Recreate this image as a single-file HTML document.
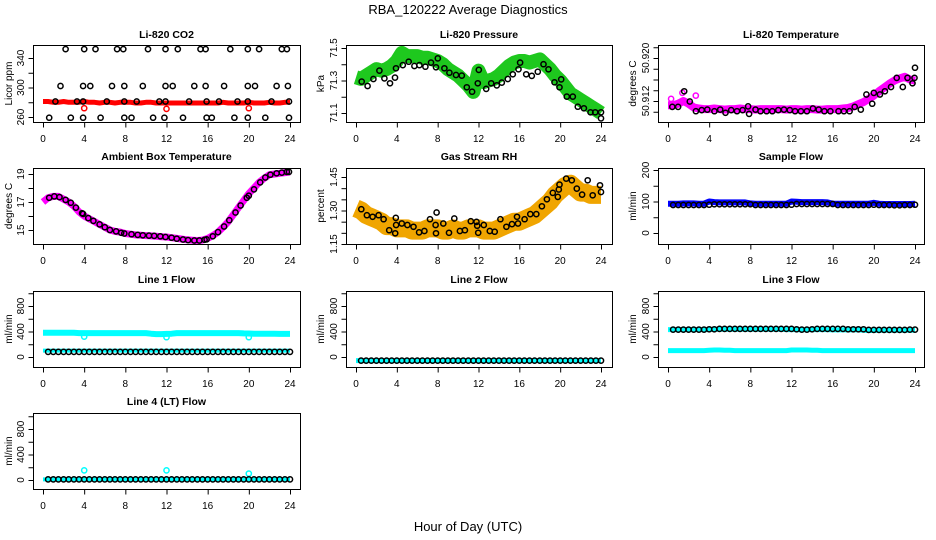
<!DOCTYPE html>
<html><head><meta charset="utf-8">
<style>
html,body{margin:0;padding:0;background:#fff;}
svg{display:block;font-family:"Liberation Sans",Arial,sans-serif;}
</style></head>
<body>
<svg id="chart" width="936" height="540" viewBox="0 0 936 540" xmlns="http://www.w3.org/2000/svg">
<text x="468" y="14" text-anchor="middle" font-size="13">RBA_120222  Average Diagnostics</text>
<text x="468" y="531" text-anchor="middle" font-size="13">Hour of Day (UTC)</text>
</svg>
<script>
const DENSE_H = [0,0.5,1,1.5,2,2.5,3,3.5,4,4.5,5,5.5,6,6.5,7,7.5,8,8.5,9,9.5,10,10.5,11,11.5,12,12.5,13,13.5,14,14.5,15,15.5,16,16.5,17,17.5,18,18.5,19,19.5,20,20.5,21,21.5,22,22.5,23,23.5,24];
const FLOW_H = [0.5,1,1.5,2,2.5,3,3.5,4,4.5,5,5.5,6,6.5,7,7.5,8,8.5,9,9.5,10,10.5,11,11.5,12,12.5,13,13.5,14,14.5,15,15.5,16,16.5,17,17.5,18,18.5,19,19.5,20,20.5,21,21.5,22,22.5,23,23.5,24];
const X_TICKS = [0,4,8,12,16,20,24];

// CO2
const CO2_RED = [281,281,280,280,281,280,280,280,281,280,280,279,280,280,279,280,280,280,279,279,280,280,279,279,279,279,279,279,279,279,279,279,279,279,279,280,279,279,279,279,280,279,279,279,280,279,279,280,280];
const CO2_RED_OUT_H = [4,12,20];
const CO2_RED_OUT_V = [272,271,272];
const CO2_BLK_H = [2.2,4.0,5.1,7.2,7.8,10.2,11.9,13.1,15.3,15.8,18.2,19.9,21.0,23.2,23.7, 1.7,3.9,4.6,6.7,7.9,9.7,11.9,12.6,14.7,15.8,17.6,19.9,20.6,22.7,23.8, 1.2,3.3,3.9,6.2,7.9,9.1,11.3,11.9,14.2,15.9,17.1,18.9,19.9,22.2,23.9, 0.6,2.7,3.9,5.6,7.9,8.6,10.7,11.8,13.6,15.9,16.4,18.6,19.9,21.6,23.9];
const CO2_BLK_V = [352,352,352,352,352,352,352,352,352,352,352,352,352,352,352, 302,302,302,302,302,302,302,302,302,302,302,302,302,302,302, 281,281,281,281,281,281,281,281,281,281,281,281,281,281,281, 259,259,259,259,259,259,259,259,259,259,259,259,259,259,259];

// Pressure
const PRES_GREEN = [71.32,71.31,71.33,71.35,71.37,71.36,71.37,71.39,71.42,71.47,71.45,71.45,71.45,71.44,71.44,71.43,71.42,71.40,71.37,71.35,71.33,71.30,71.27,71.23,71.36,71.29,71.30,71.31,71.33,71.36,71.39,71.41,71.42,71.42,71.41,71.42,71.43,71.40,71.37,71.33,71.30,71.26,71.22,71.20,71.18,71.16,71.14,71.12,71.10];
const PRES_BLK_H = [0.56,1.14,1.70,2.29,2.78,3.33,3.82,3.92,4.58,5.16,5.72,6.21,6.80,7.35,7.84,8.01,8.66,9.15,9.80,10.36,10.85,11.37,11.93,12.03,12.75,13.24,13.79,14.28,14.87,15.36,15.92,16.08,16.67,17.22,17.81,18.37,18.86,19.44,19.93,20.10,20.65,21.24,21.73,22.32,22.97,23.43,24.0,24.0];
const PRES_BLK_V = [71.293,71.266,71.309,71.361,71.313,71.283,71.318,71.375,71.395,71.416,71.389,71.395,71.385,71.410,71.381,71.436,71.375,71.348,71.334,71.330,71.258,71.231,71.283,71.365,71.248,71.283,71.270,71.287,71.309,71.338,71.369,71.410,71.338,71.328,71.354,71.400,71.369,71.289,71.258,71.307,71.201,71.201,71.139,71.129,71.104,71.104,71.104,71.067];

// Li-820 temperature
const TEMP_MAG = [50.9112,50.9112,50.9115,50.9120,50.9115,50.9108,50.9106,50.9105,50.9105,50.9106,50.9105,50.9104,50.9105,50.9105,50.9106,50.9105,50.9105,50.9104,50.9105,50.9105,50.9105,50.9105,50.9105,50.9104,50.9105,50.9105,50.9104,50.9105,50.9105,50.9104,50.9104,50.9105,50.9105,50.9105,50.9106,50.9107,50.9110,50.9114,50.9118,50.9124,50.9130,50.9138,50.9145,50.9152,50.9158,50.9162,50.9165,50.9160,50.9158];
const TEMP_MAG_OUT_H = [22.7,1.4,2.7,0.3];
const TEMP_MAG_OUT_V = [50.9230,50.9135,50.9130,50.9124];
const TEMP_BLK_H = [0.42,0.98,1.57,2.12,2.71,3.27,3.82,4.51,5.07,5.59,6.14,6.70,7.25,7.78,7.88,8.50,8.99,9.58,10.13,10.72,11.27,11.83,12.35,12.91,13.50,14.08,14.64,15.20,15.78,16.57,17.09,17.65,18.14,18.73,19.28,19.84,20.0,20.59,21.08,21.67,22.22,22.81,23.27,23.76,23.95,24.0];
const TEMP_BLK_V = [50.9109,50.9109,50.9138,50.9119,50.9101,50.9103,50.9104,50.9101,50.9104,50.9098,50.9103,50.9101,50.9103,50.9110,50.9096,50.9104,50.9101,50.9101,50.9101,50.9103,50.9104,50.9103,50.9101,50.9101,50.9101,50.9106,50.9104,50.9101,50.9101,50.9101,50.9101,50.9101,50.9109,50.9104,50.9132,50.9115,50.9135,50.9132,50.9138,50.9146,50.9163,50.9146,50.9163,50.9153,50.9163,50.9182];

// Ambient box temperature
const AMB_MAG = [17.0,17.3,17.4,17.4,17.2,17.0,16.7,16.3,16.0,15.8,15.6,15.4,15.2,15.0,14.9,14.85,14.75,14.7,14.65,14.62,14.6,14.58,14.55,14.52,14.5,14.45,14.4,14.35,14.3,14.27,14.25,14.28,14.4,14.6,14.85,15.2,15.6,16.1,16.6,17.1,17.6,18.0,18.4,18.7,18.95,19.0,19.05,19.1,19.15];
const AMB_BLK_H = [0.6,1.1,1.6,2.2,2.7,3.2,3.8,3.9,4.4,4.9,5.5,6.0,6.5,7.1,7.6,7.9,8.6,9.2,9.7,10.3,10.8,11.4,11.9,12.5,13.0,13.6,14.1,14.7,15.2,15.7,15.9,16.5,17.0,17.6,18.1,18.7,19.2,19.8,20.0,20.5,21.1,21.6,22.1,22.7,23.2,23.7,23.9];
const AMB_BLK_V = [17.3,17.4,17.35,17.15,16.95,16.6,16.2,16.15,15.85,15.65,15.4,15.2,15.0,14.9,14.8,14.75,14.7,14.65,14.62,14.6,14.58,14.55,14.5,14.45,14.38,14.32,14.28,14.25,14.25,14.3,14.33,14.55,14.85,15.25,15.7,16.25,16.75,17.3,17.45,17.9,18.4,18.75,18.95,19.05,19.1,19.15,19.15];

// Gas stream RH
const RH_ORANGE = [1.31,1.30,1.28,1.27,1.26,1.25,1.23,1.23,1.22,1.22,1.22,1.21,1.21,1.21,1.22,1.22,1.22,1.21,1.21,1.22,1.21,1.21,1.22,1.22,1.22,1.21,1.21,1.21,1.22,1.23,1.24,1.25,1.25,1.26,1.27,1.28,1.30,1.32,1.34,1.37,1.39,1.41,1.42,1.40,1.38,1.38,1.37,1.37,1.37];
const RH_BLK_H = [0.52,1.07,1.63,2.21,2.70,3.25,3.84,3.90,3.93,4.49,5.04,5.63,6.18,6.70,7.25,7.80,7.84,7.90,8.55,9.11,9.63,10.18,10.67,11.25,11.80,11.87,11.97,12.52,13.11,13.59,14.15,14.73,15.28,15.77,15.87,16.52,17.07,17.66,18.21,18.70,19.28,19.77,19.87,19.93,20.59,21.14,21.63,22.15,22.70,23.19,23.90,24.0];
const RH_BLK_V = [1.306,1.279,1.272,1.279,1.261,1.212,1.198,1.267,1.235,1.242,1.235,1.227,1.202,1.208,1.261,1.235,1.198,1.291,1.242,1.200,1.264,1.208,1.212,1.252,1.249,1.232,1.200,1.235,1.208,1.205,1.261,1.227,1.239,1.272,1.242,1.261,1.284,1.284,1.319,1.350,1.379,1.361,1.394,1.416,1.443,1.435,1.398,1.371,1.435,1.368,1.413,1.383];

// Sample flow
const SAMP_BLUE = [93,93,93,94,94,94,93,93,100,98,97,97,97,97,97,97,94,93,93,93,93,93,93,93,100,99,98,98,98,98,98,97,93,93,93,93,93,93,93,93,96,93,92,92,92,92,92,92,93];
const SAMP_BLK = [89,89,89,89,89,89,89,90,91,91,91,91,91,91,91,91,89,89,89,89,89,89,89,90,92,92,92,92,92,92,92,92,89,89,89,89,89,89,89,90,89,89,89,88,88,89,89,90];

// Line 1 flow
const L1_CYAN_HI = [380,380,380,380,380,380,380,375,375,375,375,375,375,375,375,375,375,375,375,375,375,365,360,360,362,365,375,375,375,375,375,375,375,375,375,375,375,375,375,370,368,366,366,365,364,364,363,363,362];
const L1_CYAN_LO = [100,100,100,100,100,100,100,100,100,100,100,100,100,100,100,100,100,100,100,100,100,100,100,100,100,100,100,100,100,100,100,100,100,100,100,100,100,100,100,100,100,100,100,100,100,100,100,100,100];
const L1_CYAN_OUT_H = [4,12,20];
const L1_CYAN_OUT_V = [320,310,310];
const L1_BLK = [80,80,80,80,80,80,80,80,80,80,80,80,80,80,80,80,80,80,80,80,80,80,80,80,80,80,80,80,80,80,80,80,80,80,80,80,80,80,80,80,80,80,80,80,80,80,80,80];

// Line 2 flow
const L2_CYAN = [-57,-57,-57,-57,-57,-57,-57,-57,-57,-57,-57,-57,-57,-57,-57,-57,-57,-57,-57,-57,-57,-57,-57,-57,-57,-57,-57,-57,-57,-57,-57,-57,-57,-57,-57,-57,-57,-57,-57,-57,-57,-57,-57,-57,-57,-57,-57,-57,-57];
const L2_BLK = [-57,-57,-57,-57,-57,-57,-57,-57,-57,-57,-57,-57,-57,-57,-57,-57,-57,-57,-57,-57,-57,-57,-57,-57,-57,-57,-57,-57,-57,-57,-57,-57,-57,-57,-57,-57,-57,-57,-57,-57,-57,-57,-57,-57,-57,-57,-57,-57];

// Line 3 flow
const L3_CYAN_HI = [430,430,430,430,430,430,430,430,430,435,435,435,435,435,435,435,435,435,435,435,435,435,435,430,430,430,425,430,430,430,430,430,425,425,425,425,425,425,420,415,415,420,420,420,420,420,420,420,420];
const L3_CYAN_LO = [100,100,100,100,100,100,100,100,105,110,110,105,105,100,100,100,100,100,100,100,100,100,100,100,110,110,110,110,105,105,100,100,100,100,100,100,100,100,100,100,100,100,100,100,100,100,100,100,100];
const L3_BLK = [430,430,430,430,430,430,430,435,435,440,440,440,440,440,440,440,440,440,440,440,440,440,440,440,435,430,430,435,440,440,440,440,440,440,435,435,435,435,425,425,425,425,425,425,425,425,430,430];

// Line 4 flow
const L4_CYAN = [10,10,10,10,10,10,10,10,10,10,10,10,10,10,10,10,10,10,10,10,10,10,10,10,10,10,10,10,10,10,10,10,10,10,10,10,10,10,10,10,10,10,10,10,10,10,10,10,10];
const L4_CYAN_OUT_H = [4,12,20];
const L4_CYAN_OUT_V = [150,150,100];
const L4_BLK = [10,10,10,10,10,10,10,10,10,10,10,10,10,10,10,10,10,10,10,10,10,10,10,10,10,10,10,10,10,10,10,10,10,10,10,10,10,10,10,10,10,10,10,10,10,10,10,10];

const NS = "http://www.w3.org/2000/svg";
const svg = document.getElementById('chart');
function mk(parent, tag, attrs, text){
  const el = document.createElementNS(NS, tag);
  for (const k in attrs) el.setAttribute(k, attrs[k]);
  if (text !== undefined) el.textContent = text;
  parent.appendChild(el);
  return el;
}

const COLS = [{bx0:33,bx1:300,x0:43,x24:290,ylx:12},{bx0:346,bx1:612,x0:356,x24:601,ylx:324},{bx0:658,bx1:924,x0:668,x24:915,ylx:636}];
const ROWS = [{by0:45,by1:122,ty:38},{by0:168,by1:244,ty:160},{by0:291,by1:367,ty:283},{by0:413,by1:489,ty:405}];

function panel(cfg){
  const C = COLS[cfg.col], R = ROWS[cfg.row];
  const g = mk(svg, 'g', {});
  
  
  const xs = h => C.x0 + (h / 24) * (C.x24 - C.x0);
  const [v1, p1, v2, p2] = cfg.ya;
  const ys = v => p1 + (v - v1) * (p2 - p1) / (v2 - v1);
  const cid = 'clip-' + cfg.name;
  const cp = mk(g, 'clipPath', {id: cid});
  mk(cp, 'rect', {x: C.bx0, y: R.by0, width: C.bx1 - C.bx0, height: R.by1 - R.by0});
  const plot = mk(g, 'g', {'clip-path': 'url(#' + cid + ')'});
  
  
  cfg.series.forEach(s => {
    if (s.type === 'band') {
      const pts = s.h.map((h, i) => xs(h).toFixed(1) + ',' + ys(s.v[i]).toFixed(1)).join(' ');
      const pl = mk(plot, 'polyline', {points: pts, fill: 'none', stroke: s.color, 'stroke-width': s.w, 'stroke-linejoin': 'round', 'stroke-linecap': 'butt'});
      
      
    } else {
      s.h.forEach((h, i) => {
        const c = mk(plot, 'circle', {cx: xs(h).toFixed(1), cy: ys(s.v[i]).toFixed(1), r: s.r || 2.6, fill: 'none', stroke: s.color, 'stroke-width': s.sw || 1.5});
        
        
      });
    }
  });
  const box = mk(g, 'rect', {x: C.bx0 + 0.5, y: R.by0 + 0.5, width: C.bx1 - C.bx0, height: R.by1 - R.by0, fill: 'none', stroke: '#000', 'stroke-width': 1});
  
  
  const t = mk(g, 'text', {x: (C.bx0 + C.bx1) / 2, y: R.ty, 'text-anchor': 'middle', 'font-size': 10.5, 'font-weight': 'bold'}, cfg.title);
  
  
  const xa = mk(g, 'g', {});
  
  
  const xb = R.by1 + 0.5;
  mk(xa, 'line', {x1: xs(0), x2: xs(24), y1: xb, y2: xb, stroke: '#000'});
  X_TICKS.forEach(tv => {
    mk(xa, 'line', {x1: xs(tv) + 0.5, x2: xs(tv) + 0.5, y1: xb, y2: xb + 5, stroke: '#000'});
    const lb = mk(xa, 'text', {x: xs(tv), y: R.by1 + 20, 'text-anchor': 'middle', 'font-size': 10}, String(tv));
    
    
  });
  const ya = mk(g, 'g', {});
  
  
  const xl = C.bx0 + 0.5;
  const ty = cfg.yticks;
  mk(ya, 'line', {x1: xl, x2: xl, y1: ys(ty[0]), y2: ys(ty[ty.length - 1]), stroke: '#000'});
  ty.forEach(tv => {
    mk(ya, 'line', {x1: xl - 5, x2: xl, y1: ys(tv) + 0.5, y2: ys(tv) + 0.5, stroke: '#000'});
  });
  cfg.ylabels.forEach((lv, i) => {
    const yy = ys(lv);
    const lb = mk(ya, 'text', {x: 0, y: 0, 'text-anchor': 'middle', 'font-size': 10, transform: 'translate(' + (C.bx0 - 9) + ',' + yy.toFixed(1) + ') rotate(-90)'}, cfg.ylabelText[i]);
    
    
  });
  const yt = mk(g, 'text', {x: 0, y: 0, 'text-anchor': 'middle', 'font-size': 10, transform: 'translate(' + C.ylx + ',' + ((R.by0 + R.by1) / 2) + ') rotate(-90)'}, cfg.ylab);
  
  
}

panel({name:'co2', col:0, row:0, title:'Li-820 CO2', ylab:'Licor ppm', ya:[340,58,260,117],
  yticks:[260,280,300,320,340], ylabels:[340,300,260], ylabelText:['340','300','260'],
  series:[
    {type:'band', name:'co2-red-band', h:DENSE_H, v:CO2_RED, color:'#ff0000', w:5},
    {type:'pts', name:'co2-red-outlier', h:CO2_RED_OUT_H, v:CO2_RED_OUT_V, color:'#ff0000'},
    {type:'pts', name:'co2-black', h:CO2_BLK_H, v:CO2_BLK_V, color:'#000'}
  ]});
panel({name:'pressure', col:1, row:0, title:'Li-820 Pressure', ylab:'kPa', ya:[71.5,48,71.1,113],
  yticks:[71.1,71.2,71.3,71.4,71.5], ylabels:[71.5,71.3,71.1], ylabelText:['71.5','71.3','71.1'],
  series:[
    {type:'band', name:'pressure-green-band', h:DENSE_H, v:PRES_GREEN, color:'#1ec81e', w:14},
    {type:'pts', name:'pressure-black', h:PRES_BLK_H, v:PRES_BLK_V, color:'#000'}
  ]});
panel({name:'licor-temp', col:2, row:0, title:'Li-820 Temperature', ylab:'degrees C', ya:[50.920,58,50.912,101],
  yticks:[50.910,50.912,50.914,50.916,50.918,50.920,50.922], ylabels:[50.920,50.912], ylabelText:['50.920','50.912'],
  series:[
    {type:'band', name:'licor-temp-magenta-band', h:DENSE_H, v:TEMP_MAG, color:'#ff00ff', w:8},
    {type:'pts', name:'licor-temp-magenta-outlier', h:TEMP_MAG_OUT_H, v:TEMP_MAG_OUT_V, color:'#ff00ff'},
    {type:'pts', name:'licor-temp-black', h:TEMP_BLK_H, v:TEMP_BLK_V, color:'#000'}
  ]});
panel({name:'ambient-temp', col:0, row:1, title:'Ambient Box Temperature', ylab:'degrees C', ya:[19,174,15,230],
  yticks:[15,16,17,18,19], ylabels:[19,17,15], ylabelText:['19','17','15'],
  series:[
    {type:'band', name:'ambient-magenta-band', h:DENSE_H, v:AMB_MAG, color:'#ff00ff', w:7},
    {type:'pts', name:'ambient-black', h:AMB_BLK_H, v:AMB_BLK_V, color:'#000'}
  ]});
panel({name:'gas-rh', col:1, row:1, title:'Gas Stream RH', ylab:'percent', ya:[1.45,177,1.15,244],
  yticks:[1.15,1.20,1.25,1.30,1.35,1.40,1.45], ylabels:[1.45,1.30,1.15], ylabelText:['1.45','1.30','1.15'],
  series:[
    {type:'band', name:'rh-orange-band', h:DENSE_H, v:RH_ORANGE, color:'#f0a500', w:18},
    {type:'pts', name:'rh-black', h:RH_BLK_H, v:RH_BLK_V, color:'#000'}
  ]});
panel({name:'sample-flow', col:2, row:1, title:'Sample Flow', ylab:'ml/min', ya:[200,170,0,233],
  yticks:[0,50,100,150,200], ylabels:[200,100,0], ylabelText:['200','100','0'],
  series:[
    {type:'band', name:'sample-blue-band', h:DENSE_H, v:SAMP_BLUE, color:'#0000ff', w:6},
    {type:'pts', name:'sample-black', h:FLOW_H, v:SAMP_BLK, color:'#000'}
  ]});
const FLOW_TICKS = [0,200,400,600,800,1000];
panel({name:'line1-flow', col:0, row:2, title:'Line 1 Flow', ylab:'ml/min', ya:[800,306,0,357],
  yticks:FLOW_TICKS, ylabels:[800,400,0], ylabelText:['800','400','0'],
  series:[
    {type:'band', name:'line1-cyan-high', h:DENSE_H, v:L1_CYAN_HI, color:'#00ffff', w:6},
    {type:'band', name:'line1-cyan-low', h:DENSE_H, v:L1_CYAN_LO, color:'#00ffff', w:4},
    {type:'pts', name:'line1-cyan-outlier', h:L1_CYAN_OUT_H, v:L1_CYAN_OUT_V, color:'#00ffff'},
    {type:'pts', name:'line1-black', h:FLOW_H, v:L1_BLK, color:'#000'}
  ]});
panel({name:'line2-flow', col:1, row:2, title:'Line 2 Flow', ylab:'ml/min', ya:[800,306,0,357],
  yticks:FLOW_TICKS, ylabels:[800,400,0], ylabelText:['800','400','0'],
  series:[
    {type:'band', name:'line2-cyan', h:DENSE_H, v:L2_CYAN, color:'#00ffff', w:5},
    {type:'pts', name:'line2-black', h:FLOW_H, v:L2_BLK, color:'#000'}
  ]});
panel({name:'line3-flow', col:2, row:2, title:'Line 3 Flow', ylab:'ml/min', ya:[800,306,0,357],
  yticks:FLOW_TICKS, ylabels:[800,400,0], ylabelText:['800','400','0'],
  series:[
    {type:'band', name:'line3-cyan-high', h:DENSE_H, v:L3_CYAN_HI, color:'#00ffff', w:5},
    {type:'band', name:'line3-cyan-low', h:DENSE_H, v:L3_CYAN_LO, color:'#00ffff', w:5},
    {type:'pts', name:'line3-black', h:FLOW_H, v:L3_BLK, color:'#000'}
  ]});
panel({name:'line4-flow', col:0, row:3, title:'Line 4 (LT) Flow', ylab:'ml/min', ya:[800,429,0,480],
  yticks:FLOW_TICKS, ylabels:[800,400,0], ylabelText:['800','400','0'],
  series:[
    {type:'band', name:'line4-cyan', h:DENSE_H, v:L4_CYAN, color:'#00ffff', w:4},
    {type:'pts', name:'line4-cyan-outlier', h:L4_CYAN_OUT_H, v:L4_CYAN_OUT_V, color:'#00ffff'},
    {type:'pts', name:'line4-black', h:FLOW_H, v:L4_BLK, color:'#000'}
  ]});
</script>
</body></html>
